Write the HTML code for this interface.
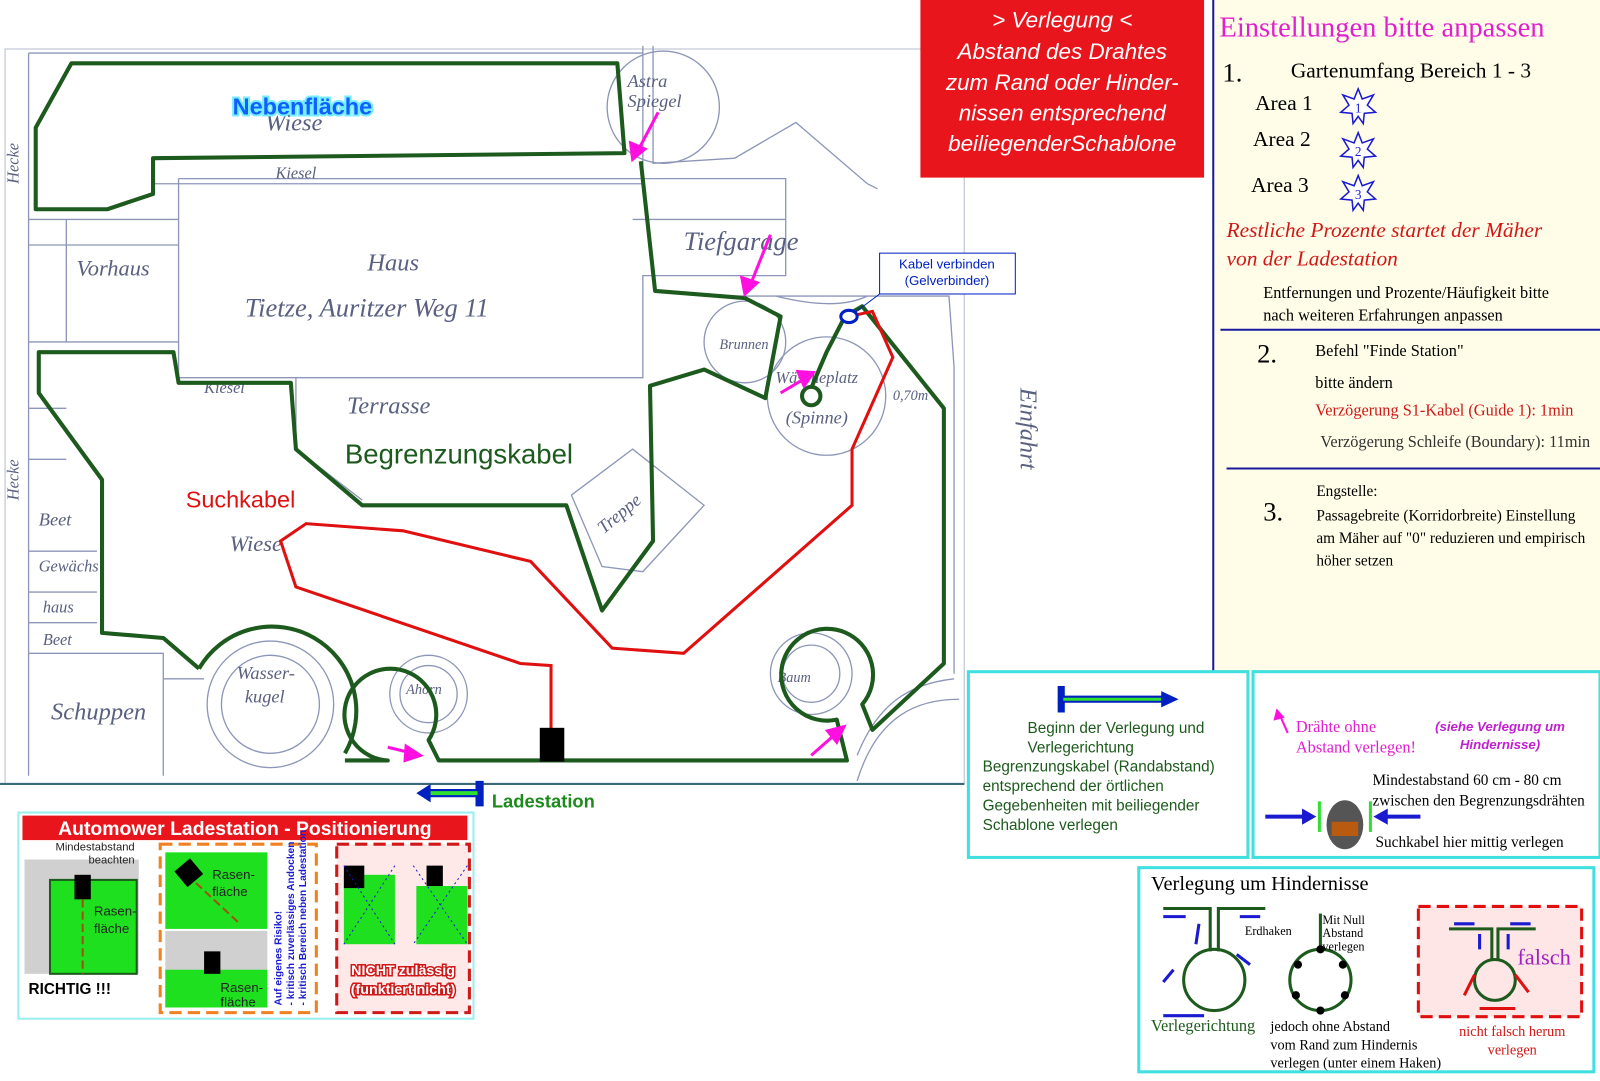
<!DOCTYPE html>
<html><head><meta charset="utf-8"><style>
body{margin:0;background:#fff;}
svg{display:block}
.s{font-family:"Liberation Sans",sans-serif}
.r{font-family:"Liberation Serif",serif}
</style></head><body>
<svg width="1600" height="1081" viewBox="0 0 1568 1059" preserveAspectRatio="none" xmlns="http://www.w3.org/2000/svg">
<rect width="1568" height="1059" fill="#fff"/>
<g fill="none" stroke="#8d96b8" stroke-width="1.3">
<rect x="5" y="48" width="940" height="720" stroke="#c8ccd8"/>
<path d="M28 52 L28 760 M28 52 L630 52 M28 215 L175 215 M28 240 L175 240 M28 335 L175 335 M65 215 L65 335 M175 175 L770 175 L770 270 L630 270 L630 370 L290 370 M175 175 L175 370 L290 370 L290 440 L355 490"/>
<path d="M150 160 L150 180 L630 180 M630 45 L630 185 M640 45 L640 160 L720 155 L780 120 L850 180 L860 185"/>
<path d="M700 290 L930 290 L935 360 L935 660 M760 290 C800 300 830 300 850 290"/>
<circle cx="650" cy="105" r="55"/>
<circle cx="810" cy="388" r="58"/>
<circle cx="265" cy="690" r="62"/><circle cx="265" cy="690" r="48"/>
<circle cx="420" cy="680" r="38"/><circle cx="420" cy="680" r="28"/>
<circle cx="795" cy="660" r="40"/><circle cx="795" cy="660" r="28"/>
<circle cx="730" cy="335" r="40"/>
<path d="M560 485 L620 440 L690 495 L630 560 L590 555 Z"/>
<path d="M28 640 L160 640 L160 760 M28 400 L65 400 M28 450 L65 450 M28 540 L95 540 M28 580 L95 580 M28 610 L95 610 M160 665 L200 665"/>
<path d="M840 740 C860 690 890 670 935 665 M840 765 C860 700 900 685 940 685"/>
<path d="M620 215 L770 215"/>
</g>
<line x1="0" y1="768" x2="945" y2="768" stroke="#3a6a7a" stroke-width="2"/>
<g font-family="Liberation Serif,serif" fill="#5a6080" font-style="italic">
<text x="260" y="128" font-size="24">Wiese</text>
<text x="360" y="265" font-size="24">Haus</text>
<text x="240" y="310" font-size="26">Tietze, Auritzer Weg 11</text>
<text x="75" y="270" font-size="22">Vorhaus</text>
<text x="670" y="245" font-size="26">Tiefgarage</text>
<text x="340" y="405" font-size="24">Terrasse</text>
<text x="225" y="540" font-size="22">Wiese</text>
<text x="615" y="85" font-size="18">Astra</text>
<text x="615" y="105" font-size="18">Spiegel</text>
<text x="760" y="375" font-size="16">Wäscheplatz</text>
<text x="770" y="415" font-size="18">(Spinne)</text>
<text x="705" y="342" font-size="14">Brunnen</text>
<text x="585" y="515" font-size="18" transform="rotate(-40 600 510)">Treppe</text>
<text x="50" y="705" font-size="24">Schuppen</text>
<text x="232" y="665" font-size="18">Wasser-</text>
<text x="240" y="688" font-size="18">kugel</text>
<text x="398" y="680" font-size="14">Ahorn</text>
<text x="762" y="668" font-size="14">Baum</text>
<text x="38" y="515" font-size="18">Beet</text>
<text x="38" y="560" font-size="16">Gewächs</text>
<text x="42" y="600" font-size="16">haus</text>
<text x="42" y="632" font-size="16">Beet</text>
<text x="200" y="385" font-size="16">Kiesel</text>
<text x="270" y="175" font-size="16">Kiesel</text>
<text x="1000" y="380" font-size="24" transform="rotate(90 1000 380)">Einfahrt</text>
<text x="18" y="180" font-size="16" transform="rotate(-90 18 180)">Hecke</text>
<text x="18" y="490" font-size="16" transform="rotate(-90 18 490)">Hecke</text>
<text x="875" y="392" font-size="14">0,70m</text>
</g>
<g fill="none" stroke="#1d5a1d" stroke-width="4" stroke-linejoin="round">
<path d="M35 200 L35 125 L70 62 L605 62 L612 150 L150 155 L150 190 L105 205 L35 205 Z"/>
<path d="M628 158 L642 285 L730 292 L765 310 L750 390 L690 362 L637 378 L640 530 L590 598 L555 495 L355 495 L290 440 L285 375 L175 375 L170 345 L38 345 L38 385 L100 470 L100 620 L160 625 L195 655"/>
<path d="M195 655 A72 72 0 1 1 338 738"/>
<path d="M338 745 L380 745 A45 45 0 1 1 420 725 L430 745 L830 745 L820 705 A45 45 0 1 1 845 690 L855 715 L925 650 L925 400 L845 300 L828 310 L810 345 L795 380"/>
<circle cx="795" cy="388" r="9"/>
</g>
<path d="M540 720 L540 652 L510 650 L290 575 L275 530 L300 513 L395 520 L520 550 L600 635 L670 640 L835 495 L835 440 L875 350 L855 305 L832 310" fill="none" stroke="#e01010" stroke-width="3"/>
<ellipse cx="832" cy="310" rx="8" ry="6" fill="#fff" stroke="#0020c0" stroke-width="3"/>
<rect x="529" y="713" width="24" height="33" fill="#000"/>
<g stroke="#ff10e0" stroke-width="3" fill="#ff10e0">
<line x1="645" y1="110" x2="625" y2="148"/><polygon points="620,156 618,140 632,146"/>
<line x1="755" y1="230" x2="735" y2="280"/><polygon points="730,288 727,272 742,277"/>
<line x1="765" y1="385" x2="790" y2="370"/><polygon points="797,365 782,364 788,378"/>
<line x1="380" y1="732" x2="405" y2="738"/><polygon points="412,740 398,731 397,745"/>
<line x1="795" y1="740" x2="820" y2="718"/><polygon points="827,712 811,716 820,727"/>
</g>
<text x="228" y="112" class="s" font-size="23" font-weight="bold" fill="#1060ff" stroke="#7ef" stroke-width="4" paint-order="stroke">Nebenfläche</text>
<text x="338" y="454" class="s" font-size="27" fill="#1d5a1d">Begrenzungskabel</text>
<text x="182" y="497" class="s" font-size="23" fill="#e01010">Suchkabel</text>
<rect x="862" y="248" width="133" height="40" fill="#fff" stroke="#0020c0"/>
<text x="928" y="263" class="s" font-size="13" fill="#0020c0" text-anchor="middle">Kabel verbinden</text>
<text x="928" y="279" class="s" font-size="13" fill="#0020c0" text-anchor="middle">(Gelverbinder)</text>
<line x1="862" y1="288" x2="838" y2="306" stroke="#0020c0"/>
<path d="M470 765 L470 790 M470 777 L418 777" stroke="#0020c0" stroke-width="8"/>
<path d="M468 777 L420 777" stroke="#30e030" stroke-width="4"/>
<polygon points="408,777 422,768 422,786" fill="#0020c0"/>
<text x="482" y="791" class="s" font-size="18" font-weight="bold" fill="#1d8a1d">Ladestation</text>
<rect x="902" y="0" width="278" height="174" fill="#e8161c"/>
<g class="s" font-size="22" font-style="italic" fill="#fff" text-anchor="middle">
<text x="1041" y="27">&gt; Verlegung &lt;</text>
<text x="1041" y="58">Abstand des Drahtes</text>
<text x="1041" y="88">zum Rand oder Hinder-</text>
<text x="1041" y="118">nissen entsprechend</text>
<text x="1041" y="148">beiliegenderSchablone</text>
</g>
<rect x="1188" y="0" width="380" height="660" fill="#fffde8"/>
<line x1="1189" y1="0" x2="1189" y2="660" stroke="#1a1aa0" stroke-width="2"/>
<line x1="1196" y1="323" x2="1568" y2="323" stroke="#1a1aa0" stroke-width="2"/>
<line x1="1202" y1="459" x2="1568" y2="459" stroke="#1a1aa0" stroke-width="2"/>
<g class="r">
<text x="1195" y="36" font-size="28" fill="#e020d0">Einstellungen bitte anpassen</text>
<text x="1198" y="80" font-size="26">1.</text>
<text x="1265" y="76" font-size="21">Gartenumfang Bereich 1 - 3</text>
<text x="1230" y="108" font-size="21">Area 1</text>
<text x="1228" y="143" font-size="21">Area 2</text>
<text x="1226" y="188" font-size="21">Area 3</text>
<text x="1202" y="232" font-size="21" font-style="italic" fill="#d01818">Restliche Prozente  startet der Mäher</text>
<text x="1202" y="260" font-size="21" font-style="italic" fill="#d01818">von der Ladestation</text>
<text x="1238" y="292" font-size="16">Entfernungen und Prozente/Häufigkeit bitte</text>
<text x="1238" y="314" font-size="16">nach weiteren Erfahrungen anpassen</text>
<text x="1232" y="355" font-size="26">2.</text>
<text x="1289" y="349" font-size="16">Befehl "Finde Station"</text>
<text x="1289" y="380" font-size="16">bitte ändern</text>
<text x="1289" y="407" font-size="16" fill="#d01818">Verzögerung S1-Kabel (Guide 1): 1min</text>
<text x="1294" y="438" font-size="16" fill="#333">Verzögerung Schleife (Boundary): 11min</text>
<text x="1238" y="510" font-size="26">3.</text>
<text x="1290" y="486" font-size="15">Engstelle:</text>
<text x="1290" y="510" font-size="15">Passagebreite (Korridorbreite) Einstellung</text>
<text x="1290" y="532" font-size="15">am Mäher auf "0" reduzieren und empirisch</text>
<text x="1290" y="554" font-size="15">höher setzen</text>
</g>
<g fill="#fff" stroke="#1a1ad0" stroke-width="1.5">
<polygon points="1331,87 1335,97 1346,93 1340,103 1348,110 1337,111 1336,121 1331,114 1326,121 1325,111 1314,110 1322,103 1316,93 1327,97"/>
<polygon points="1331,130 1335,140 1346,136 1340,146 1348,153 1337,154 1336,164 1331,157 1326,164 1325,154 1314,153 1322,146 1316,136 1327,140"/>
<polygon points="1331,172 1335,182 1346,178 1340,188 1348,195 1337,196 1336,206 1331,199 1326,206 1325,196 1314,195 1322,188 1316,178 1327,182"/>
</g>
<g class="r" font-size="13" fill="#1a1ad0" text-anchor="middle"><text x="1331" y="110">1</text><text x="1331" y="153">2</text><text x="1331" y="195">3</text></g>
<rect x="949" y="658" width="274" height="182" fill="#fff" stroke="#40e0e0" stroke-width="3"/>
<path d="M1040 672 L1040 698 M1040 685 L1140 685" stroke="#0020c0" stroke-width="7"/>
<path d="M1042 685 L1138 685" stroke="#30e030" stroke-width="3"/>
<polygon points="1155,685 1138,677 1138,693" fill="#0020c0"/>
<g class="s" font-size="15" fill="#1d5a1d">
<text x="1007" y="718">Beginn der Verlegung und</text>
<text x="1007" y="737">Verlegerichtung</text>
<text x="963" y="756">Begrenzungskabel (Randabstand)</text>
<text x="963" y="775">entsprechend der örtlichen</text>
<text x="963" y="794">Gegebenheiten mit beiliegender</text>
<text x="963" y="813">Schablone verlegen</text>
</g>
<rect x="1228" y="658" width="340" height="182" fill="#fff" stroke="#40e0e0" stroke-width="3"/>
<line x1="1262" y1="718" x2="1254" y2="700" stroke="#ff10e0" stroke-width="2"/><polygon points="1251,694 1248,706 1259,703" fill="#ff10e0"/>
<g class="r" font-size="16" fill="#e020d0"><text x="1270" y="717">Drähte ohne</text><text x="1270" y="737">Abstand verlegen!</text></g>
<g class="s" font-size="13" font-style="italic" font-weight="bold" fill="#c020d0" text-anchor="middle"><text x="1470" y="716">(siehe Verlegung um</text><text x="1470" y="734">Hindernisse)</text></g>
<g class="r" font-size="15" fill="#000"><text x="1345" y="769">Mindestabstand 60 cm - 80 cm</text><text x="1345" y="789">zwischen den Begrenzungsdrähten</text><text x="1348" y="830">Suchkabel hier mittig verlegen</text></g>
<path d="M1240 800 L1278 800" stroke="#1a1ad0" stroke-width="4"/><polygon points="1290,800 1276,792 1276,808" fill="#1a1ad0"/>
<path d="M1392 800 L1358 800" stroke="#1a1ad0" stroke-width="4"/><polygon points="1346,800 1360,792 1360,808" fill="#1a1ad0"/>
<line x1="1293" y1="785" x2="1293" y2="815" stroke="#30e030" stroke-width="3"/>
<line x1="1343" y1="785" x2="1343" y2="815" stroke="#30e030" stroke-width="3"/>
<ellipse cx="1318" cy="808" rx="18" ry="24" fill="#555"/><rect x="1305" y="805" width="26" height="14" fill="#b85a10"/>
<rect x="1116" y="850" width="446" height="200" fill="#fff" stroke="#40e0e0" stroke-width="3"/>
<text x="1128" y="872" class="r" font-size="20">Verlegung um Hindernisse</text>
<g fill="none" stroke="#1d5a1d" stroke-width="3">
<circle cx="1190" cy="960" r="30"/><path d="M1186 932 L1186 890 L1140 890 M1194 932 L1194 890 L1240 890"/>
<circle cx="1294" cy="960" r="30"/><path d="M1294 930 L1294 895"/>
</g>
<g fill="#000"><circle cx="1272" cy="945" r="4"/><circle cx="1316" cy="945" r="4"/><circle cx="1270" cy="975" r="4"/><circle cx="1318" cy="975" r="4"/><circle cx="1294" cy="990" r="4"/><circle cx="1294" cy="930" r="4"/></g>
<g stroke="#1a1ad0" stroke-width="3"><path d="M1140 898 L1162 898 M1215 898 L1235 898 M1175 905 L1172 925 M1150 950 L1140 962 M1225 945 L1212 935 M1140 995 L1180 995"/></g>
<g class="r" font-size="12"><text x="1296" y="905">Mit Null</text><text x="1296" y="918">Abstand</text><text x="1296" y="931">verlegen</text><text x="1220" y="916">Erdhaken</text></g>
<g class="r" font-size="14"><text x="1245" y="1010">jedoch ohne Abstand</text><text x="1245" y="1028">vom Rand zum Hindernis</text><text x="1245" y="1046">verlegen (unter einem Haken)</text></g>
<text x="1128" y="1010" class="r" font-size="16" fill="#1d5a1d">Verlegerichtung</text>
<rect x="1390" y="888" width="160" height="108" fill="#ffe6e6" stroke="#e01010" stroke-width="3" stroke-dasharray="12 6"/>
<circle cx="1465" cy="960" r="20" fill="none" stroke="#1d5a1d" stroke-width="3"/>
<path d="M1462 940 L1462 910 L1420 910 M1468 940 L1468 910 L1505 910" fill="none" stroke="#1d5a1d" stroke-width="3"/>
<g stroke="#1a1ad0" stroke-width="3"><path d="M1425 905 L1445 905 M1480 905 L1500 905 M1450 915 L1450 930 M1478 915 L1478 930"/></g>
<g stroke="#e01010" stroke-width="3"><path d="M1445 955 L1435 975 M1485 955 L1498 972 M1450 988 L1485 988"/></g>
<text x="1487" y="945" class="r" font-size="22" fill="#a020c0">falsch</text>
<g class="r" font-size="14" fill="#d01818" text-anchor="middle"><text x="1482" y="1015">nicht falsch herum</text><text x="1482" y="1033">verlegen</text></g>
<rect x="18" y="796" width="446" height="202" fill="#fff" stroke="#9ee" stroke-width="2"/>
<rect x="22" y="799" width="436" height="24" fill="#e8161c"/>
<text x="240" y="818" class="s" font-size="19" font-weight="bold" fill="#fff" text-anchor="middle">Automower Ladestation - Positionierung</text>
<rect x="24" y="842" width="112" height="112" fill="#d0d0d0"/>
<rect x="49" y="862" width="85" height="92" fill="#1ee01e" stroke="#1d5a1d" stroke-width="2"/>
<rect x="73" y="857" width="16" height="24" fill="#000"/>
<line x1="81" y1="881" x2="81" y2="954" stroke="#a05010" stroke-width="2" stroke-dasharray="8 4"/>
<g class="s" font-size="11" fill="#222" text-anchor="end"><text x="132" y="833">Mindestabstand</text><text x="132" y="846">beachten</text></g>
<g class="s" font-size="13" fill="#222"><text x="92" y="897">Rasen-</text><text x="92" y="914">fläche</text></g>
<text x="28" y="974" class="s" font-size="15" font-weight="bold">RICHTIG !!!</text>
<rect x="157" y="827" width="153" height="165" fill="#fff" stroke="#f08020" stroke-width="3" stroke-dasharray="12 6"/>
<rect x="162" y="835" width="100" height="75" fill="#1ee01e"/>
<rect x="162" y="912" width="100" height="75" fill="#d0d0d0"/><rect x="162" y="950" width="100" height="37" fill="#1ee01e"/>
<rect x="175" y="845" width="20" height="20" fill="#000" transform="rotate(-40 185 855)"/>
<line x1="192" y1="865" x2="235" y2="905" stroke="#a05010" stroke-width="2" stroke-dasharray="8 4"/>
<rect x="200" y="932" width="16" height="22" fill="#000"/>
<g class="s" font-size="13" fill="#222"><text x="208" y="861">Rasen-</text><text x="208" y="878">fläche</text><text x="216" y="972">Rasen-</text><text x="216" y="986">fläche</text></g>
<g class="s" font-size="10" font-weight="bold" fill="#1a1ad0"><text transform="translate(276 985) rotate(-90)">Auf eigenes Risiko!</text><text transform="translate(288 985) rotate(-90)">- kritisch zuverlässiges Andocken</text><text transform="translate(300 985) rotate(-90)">- kritisch Bereich neben Ladestation</text></g>
<rect x="330" y="827" width="130" height="165" fill="#ffe8e8" stroke="#d01818" stroke-width="3" stroke-dasharray="12 6"/>
<rect x="337" y="857" width="50" height="68" fill="#1ee01e"/><rect x="408" y="868" width="50" height="57" fill="#1ee01e"/>
<rect x="337" y="848" width="20" height="22" fill="#000"/><rect x="418" y="848" width="16" height="20" fill="#000"/>
<g stroke="#1a1ad0" stroke-dasharray="2 3"><line x1="337" y1="848" x2="387" y2="925"/><line x1="387" y1="848" x2="337" y2="925"/><line x1="405" y1="848" x2="458" y2="925"/><line x1="458" y1="848" x2="405" y2="925"/></g>
<g class="s" font-size="14" font-weight="bold" fill="#fff" stroke="#d01818" stroke-width="3" paint-order="stroke" text-anchor="middle"><text x="395" y="955">NICHT zulässig</text><text x="395" y="974">(funktiert nicht)</text></g>
</svg>
</body></html>
